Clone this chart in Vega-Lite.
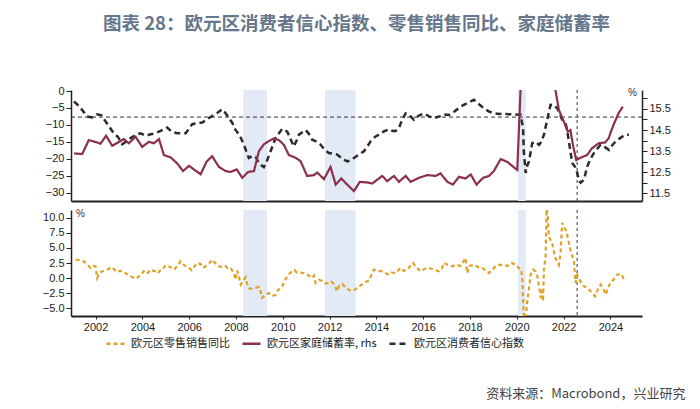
{
"$schema":"https://vega.github.io/schema/vega-lite/v6.json",
"background":"white",
"padding":{"left":42,"top":14,"right":5,"bottom":8},
"title":{"text":"资料来源：Macrobond，兴业研究","orient":"bottom","anchor":"end","fontSize":13,"font":"Noto Sans CJK SC","fontWeight":"normal","color":"#444","offset":39,"dx":15},
"datasets":{
"bands":[{"s":2008.31,"e":2009.33},{"s":2011.8,"e":2013.11},{"s":2020.05,"e":2020.38}],
"vline":[{"t":2022.58}],
"hline":[{"v":-7.7}],
"conf":[{"t":2001.08,"v":-3.1},{"t":2001.3,"v":-4.5},{"t":2001.64,"v":-7.5},{"t":2001.85,"v":-7.8},{"t":2002.07,"v":-6.9},{"t":2002.25,"v":-7.2},{"t":2002.43,"v":-9.0},{"t":2002.78,"v":-12.5},{"t":2002.95,"v":-13.5},{"t":2003.14,"v":-15.7},{"t":2003.3,"v":-15.0},{"t":2003.5,"v":-13.9},{"t":2003.7,"v":-13.0},{"t":2003.92,"v":-12.5},{"t":2004.15,"v":-13.2},{"t":2004.35,"v":-12.8},{"t":2004.55,"v":-12.5},{"t":2004.78,"v":-11.8},{"t":2005.06,"v":-10.8},{"t":2005.25,"v":-12.0},{"t":2005.49,"v":-12.5},{"t":2005.85,"v":-12.5},{"t":2006.13,"v":-9.8},{"t":2006.35,"v":-9.5},{"t":2006.56,"v":-9.3},{"t":2006.8,"v":-8.2},{"t":2006.98,"v":-7.4},{"t":2007.2,"v":-6.5},{"t":2007.41,"v":-5.4},{"t":2007.55,"v":-6.5},{"t":2007.7,"v":-8.0},{"t":2007.85,"v":-9.5},{"t":2007.98,"v":-11.5},{"t":2008.15,"v":-13.0},{"t":2008.34,"v":-15.9},{"t":2008.45,"v":-18.0},{"t":2008.55,"v":-19.8},{"t":2008.7,"v":-19.2},{"t":2008.84,"v":-19.5},{"t":2009.0,"v":-21.5},{"t":2009.19,"v":-22.5},{"t":2009.3,"v":-21.0},{"t":2009.48,"v":-17.8},{"t":2009.69,"v":-13.9},{"t":2009.97,"v":-11.2},{"t":2010.19,"v":-12.0},{"t":2010.35,"v":-14.5},{"t":2010.47,"v":-16.4},{"t":2010.6,"v":-14.5},{"t":2010.69,"v":-12.9},{"t":2010.97,"v":-11.5},{"t":2011.1,"v":-12.5},{"t":2011.26,"v":-14.4},{"t":2011.45,"v":-15.0},{"t":2011.62,"v":-15.9},{"t":2011.8,"v":-17.5},{"t":2011.97,"v":-18.3},{"t":2012.15,"v":-18.5},{"t":2012.33,"v":-18.8},{"t":2012.55,"v":-20.0},{"t":2012.75,"v":-20.8},{"t":2012.9,"v":-20.5},{"t":2013.04,"v":-19.8},{"t":2013.25,"v":-18.8},{"t":2013.47,"v":-17.8},{"t":2013.6,"v":-16.5},{"t":2013.75,"v":-14.9},{"t":2013.95,"v":-13.5},{"t":2014.11,"v":-12.9},{"t":2014.3,"v":-12.0},{"t":2014.53,"v":-11.3},{"t":2014.7,"v":-11.8},{"t":2014.82,"v":-11.8},{"t":2014.96,"v":-11.0},{"t":2015.1,"v":-8.5},{"t":2015.25,"v":-6.6},{"t":2015.42,"v":-7.2},{"t":2015.6,"v":-8.5},{"t":2015.8,"v":-7.3},{"t":2016.03,"v":-6.6},{"t":2016.25,"v":-7.5},{"t":2016.46,"v":-8.0},{"t":2016.7,"v":-7.5},{"t":2016.88,"v":-6.9},{"t":2017.1,"v":-7.1},{"t":2017.35,"v":-6.0},{"t":2017.6,"v":-4.6},{"t":2017.9,"v":-3.5},{"t":2018.17,"v":-2.6},{"t":2018.4,"v":-4.0},{"t":2018.59,"v":-5.1},{"t":2018.8,"v":-6.0},{"t":2019.02,"v":-6.6},{"t":2019.25,"v":-6.8},{"t":2019.45,"v":-6.6},{"t":2019.65,"v":-6.9},{"t":2019.88,"v":-6.9},{"t":2020.16,"v":-7.0},{"t":2020.27,"v":-11.0},{"t":2020.3,"v":-17.8},{"t":2020.38,"v":-24.2},{"t":2020.45,"v":-22.0},{"t":2020.52,"v":-20.8},{"t":2020.66,"v":-15.4},{"t":2020.8,"v":-15.0},{"t":2020.95,"v":-15.9},{"t":2021.05,"v":-15.0},{"t":2021.16,"v":-12.9},{"t":2021.3,"v":-8.5},{"t":2021.44,"v":-4.1},{"t":2021.55,"v":-4.0},{"t":2021.73,"v":-5.1},{"t":2021.94,"v":-8.5},{"t":2022.08,"v":-9.5},{"t":2022.15,"v":-11.5},{"t":2022.27,"v":-16.9},{"t":2022.37,"v":-21.3},{"t":2022.5,"v":-22.5},{"t":2022.58,"v":-24.2},{"t":2022.66,"v":-26.5},{"t":2022.73,"v":-27.1},{"t":2022.87,"v":-26.2},{"t":2023.01,"v":-22.3},{"t":2023.15,"v":-20.0},{"t":2023.3,"v":-18.3},{"t":2023.45,"v":-17.0},{"t":2023.58,"v":-15.9},{"t":2023.75,"v":-16.5},{"t":2023.94,"v":-17.4},{"t":2024.08,"v":-16.0},{"t":2024.22,"v":-14.9},{"t":2024.4,"v":-14.0},{"t":2024.55,"v":-13.3},{"t":2024.65,"v":-12.9},{"t":2024.79,"v":-12.9}],
"sav":[{"t":2001.08,"v":13.39},{"t":2001.43,"v":13.36},{"t":2001.71,"v":14.02},{"t":2002.07,"v":13.91},{"t":2002.21,"v":13.85},{"t":2002.45,"v":14.23},{"t":2002.71,"v":13.75},{"t":2003.0,"v":13.94},{"t":2003.21,"v":14.07},{"t":2003.42,"v":13.87},{"t":2003.71,"v":14.18},{"t":2003.99,"v":13.7},{"t":2004.28,"v":13.94},{"t":2004.49,"v":13.87},{"t":2004.71,"v":14.07},{"t":2004.92,"v":13.31},{"t":2005.21,"v":13.2},{"t":2005.49,"v":12.91},{"t":2005.74,"v":12.55},{"t":2005.99,"v":12.8},{"t":2006.24,"v":12.6},{"t":2006.49,"v":12.4},{"t":2006.74,"v":12.99},{"t":2006.98,"v":13.26},{"t":2007.27,"v":12.75},{"t":2007.56,"v":12.55},{"t":2007.77,"v":12.51},{"t":2008.03,"v":12.63},{"t":2008.27,"v":12.23},{"t":2008.52,"v":12.51},{"t":2008.77,"v":12.55},{"t":2008.98,"v":13.5},{"t":2009.19,"v":13.82},{"t":2009.41,"v":13.98},{"t":2009.62,"v":14.1},{"t":2009.84,"v":14.02},{"t":2010.05,"v":13.79},{"t":2010.26,"v":13.31},{"t":2010.55,"v":13.18},{"t":2010.76,"v":13.02},{"t":2011.04,"v":12.32},{"t":2011.33,"v":12.36},{"t":2011.47,"v":12.48},{"t":2011.76,"v":12.17},{"t":2012.04,"v":12.75},{"t":2012.26,"v":11.91},{"t":2012.5,"v":12.2},{"t":2012.78,"v":11.88},{"t":2013.04,"v":11.6},{"t":2013.29,"v":12.04},{"t":2013.61,"v":12.01},{"t":2013.82,"v":11.96},{"t":2014.25,"v":12.32},{"t":2014.46,"v":12.07},{"t":2014.75,"v":12.32},{"t":2014.96,"v":12.04},{"t":2015.25,"v":12.32},{"t":2015.46,"v":12.04},{"t":2015.82,"v":12.23},{"t":2016.17,"v":12.36},{"t":2016.53,"v":12.32},{"t":2016.74,"v":12.44},{"t":2017.03,"v":12.04},{"t":2017.27,"v":11.91},{"t":2017.53,"v":12.28},{"t":2017.81,"v":12.2},{"t":2018.03,"v":12.39},{"t":2018.28,"v":11.91},{"t":2018.56,"v":12.23},{"t":2018.81,"v":12.32},{"t":2019.02,"v":12.55},{"t":2019.31,"v":13.12},{"t":2019.59,"v":12.99},{"t":2020.02,"v":12.6},{"t":2020.2,"v":17.5},{"t":2020.45,"v":17.3},{"t":2020.7,"v":17.0},{"t":2020.95,"v":17.5},{"t":2021.2,"v":17.8},{"t":2021.45,"v":17.0},{"t":2021.65,"v":16.4},{"t":2021.8,"v":15.45},{"t":2022.01,"v":14.9},{"t":2022.18,"v":14.42},{"t":2022.29,"v":14.5},{"t":2022.4,"v":13.79},{"t":2022.54,"v":13.07},{"t":2022.72,"v":13.18},{"t":2023.0,"v":13.31},{"t":2023.21,"v":13.63},{"t":2023.5,"v":13.87},{"t":2023.78,"v":13.91},{"t":2023.92,"v":14.1},{"t":2024.13,"v":14.74},{"t":2024.35,"v":15.3},{"t":2024.53,"v":15.61}],
"retail":[{"t":2001.15,"v":3.06},{"t":2001.3,"v":3.0},{"t":2001.5,"v":2.78},{"t":2001.65,"v":2.2},{"t":2001.79,"v":1.67},{"t":2001.9,"v":2.0},{"t":2002.0,"v":1.94},{"t":2002.07,"v":0.0},{"t":2002.17,"v":0.9},{"t":2002.28,"v":1.11},{"t":2002.4,"v":1.2},{"t":2002.5,"v":1.39},{"t":2002.6,"v":1.6},{"t":2002.71,"v":1.78},{"t":2002.82,"v":1.3},{"t":2002.92,"v":1.0},{"t":2003.07,"v":1.22},{"t":2003.17,"v":0.9},{"t":2003.28,"v":0.83},{"t":2003.45,"v":0.4},{"t":2003.64,"v":0.0},{"t":2003.75,"v":-0.1},{"t":2003.85,"v":0.28},{"t":2003.95,"v":0.6},{"t":2004.06,"v":1.11},{"t":2004.2,"v":0.7},{"t":2004.35,"v":1.39},{"t":2004.45,"v":1.2},{"t":2004.56,"v":1.11},{"t":2004.67,"v":0.8},{"t":2004.78,"v":1.39},{"t":2004.88,"v":1.5},{"t":2004.99,"v":2.11},{"t":2005.1,"v":2.0},{"t":2005.21,"v":1.78},{"t":2005.35,"v":1.39},{"t":2005.5,"v":2.0},{"t":2005.63,"v":2.78},{"t":2005.8,"v":2.1},{"t":2005.99,"v":1.67},{"t":2006.1,"v":1.3},{"t":2006.2,"v":1.8},{"t":2006.34,"v":2.5},{"t":2006.5,"v":2.3},{"t":2006.6,"v":1.7},{"t":2006.7,"v":1.94},{"t":2006.85,"v":2.4},{"t":2006.98,"v":3.06},{"t":2007.08,"v":2.6},{"t":2007.2,"v":2.22},{"t":2007.3,"v":1.9},{"t":2007.41,"v":1.78},{"t":2007.55,"v":2.0},{"t":2007.65,"v":1.6},{"t":2007.77,"v":1.67},{"t":2007.9,"v":0.9},{"t":2007.98,"v":-0.28},{"t":2008.05,"v":1.22},{"t":2008.12,"v":0.3},{"t":2008.2,"v":-1.11},{"t":2008.3,"v":-0.5},{"t":2008.41,"v":0.11},{"t":2008.48,"v":-1.0},{"t":2008.55,"v":-1.67},{"t":2008.65,"v":-1.8},{"t":2008.77,"v":-1.67},{"t":2008.88,"v":-1.6},{"t":2008.98,"v":-1.5},{"t":2009.05,"v":-2.2},{"t":2009.12,"v":-3.3},{"t":2009.25,"v":-2.8},{"t":2009.41,"v":-2.5},{"t":2009.55,"v":-3.0},{"t":2009.69,"v":-2.8},{"t":2009.8,"v":-2.0},{"t":2009.97,"v":-1.39},{"t":2010.08,"v":-0.5},{"t":2010.19,"v":0.28},{"t":2010.3,"v":0.8},{"t":2010.4,"v":1.11},{"t":2010.5,"v":1.3},{"t":2010.6,"v":0.9},{"t":2010.76,"v":0.9},{"t":2010.9,"v":0.8},{"t":2011.04,"v":0.56},{"t":2011.15,"v":0.3},{"t":2011.26,"v":0.0},{"t":2011.33,"v":0.4},{"t":2011.4,"v":-0.83},{"t":2011.55,"v":-0.3},{"t":2011.68,"v":-0.5},{"t":2011.8,"v":-0.9},{"t":2011.97,"v":-0.83},{"t":2012.08,"v":-0.6},{"t":2012.18,"v":-1.0},{"t":2012.25,"v":-1.5},{"t":2012.32,"v":-2.2},{"t":2012.42,"v":-1.2},{"t":2012.54,"v":-1.0},{"t":2012.7,"v":-1.6},{"t":2012.8,"v":-1.9},{"t":2012.9,"v":-2.1},{"t":2013.05,"v":-2.0},{"t":2013.18,"v":-1.67},{"t":2013.3,"v":-1.3},{"t":2013.47,"v":-0.83},{"t":2013.58,"v":-0.6},{"t":2013.68,"v":-0.44},{"t":2013.89,"v":1.39},{"t":2014.05,"v":1.2},{"t":2014.25,"v":1.11},{"t":2014.35,"v":0.9},{"t":2014.53,"v":0.56},{"t":2014.65,"v":0.9},{"t":2014.82,"v":0.83},{"t":2015.03,"v":1.67},{"t":2015.15,"v":1.2},{"t":2015.32,"v":1.39},{"t":2015.45,"v":2.0},{"t":2015.57,"v":2.5},{"t":2015.7,"v":1.8},{"t":2015.89,"v":1.11},{"t":2016.05,"v":1.5},{"t":2016.24,"v":1.67},{"t":2016.45,"v":1.4},{"t":2016.67,"v":1.11},{"t":2016.8,"v":1.6},{"t":2016.88,"v":2.5},{"t":2017.05,"v":2.2},{"t":2017.24,"v":1.94},{"t":2017.4,"v":2.2},{"t":2017.6,"v":2.0},{"t":2017.81,"v":3.33},{"t":2017.88,"v":0.83},{"t":2017.95,"v":2.0},{"t":2018.17,"v":2.2},{"t":2018.35,"v":1.8},{"t":2018.52,"v":1.67},{"t":2018.65,"v":1.3},{"t":2018.81,"v":0.83},{"t":2018.95,"v":1.4},{"t":2019.09,"v":1.94},{"t":2019.25,"v":2.2},{"t":2019.45,"v":2.2},{"t":2019.6,"v":2.0},{"t":2019.8,"v":2.5},{"t":2020.02,"v":2.0},{"t":2020.12,"v":1.5},{"t":2020.19,"v":1.39},{"t":2020.24,"v":-0.28},{"t":2020.27,"v":-3.6},{"t":2020.32,"v":-8.0},{"t":2020.38,"v":-7.0},{"t":2020.44,"v":-4.2},{"t":2020.52,"v":-1.67},{"t":2020.59,"v":0.56},{"t":2020.7,"v":1.4},{"t":2020.8,"v":1.11},{"t":2020.88,"v":0.3},{"t":2020.95,"v":-1.39},{"t":2021.02,"v":-3.33},{"t":2021.09,"v":-1.67},{"t":2021.12,"v":-3.9},{"t":2021.16,"v":1.39},{"t":2021.23,"v":3.6},{"t":2021.27,"v":11.5},{"t":2021.32,"v":10.5},{"t":2021.37,"v":6.9},{"t":2021.51,"v":5.8},{"t":2021.58,"v":4.5},{"t":2021.65,"v":3.33},{"t":2021.8,"v":2.2},{"t":2021.87,"v":4.2},{"t":2021.94,"v":9.2},{"t":2022.0,"v":8.5},{"t":2022.08,"v":8.1},{"t":2022.15,"v":7.2},{"t":2022.22,"v":6.0},{"t":2022.29,"v":4.7},{"t":2022.36,"v":3.8},{"t":2022.44,"v":2.8},{"t":2022.51,"v":-0.83},{"t":2022.58,"v":0.5},{"t":2022.65,"v":0.0},{"t":2022.75,"v":-0.8},{"t":2022.87,"v":-1.39},{"t":2023.0,"v":-1.6},{"t":2023.15,"v":-2.2},{"t":2023.25,"v":-2.6},{"t":2023.35,"v":-3.05},{"t":2023.45,"v":-2.0},{"t":2023.58,"v":-1.11},{"t":2023.7,"v":-1.8},{"t":2023.8,"v":-2.78},{"t":2023.9,"v":-1.6},{"t":2024.0,"v":-0.83},{"t":2024.15,"v":-0.2},{"t":2024.29,"v":0.56},{"t":2024.45,"v":0.7},{"t":2024.55,"v":0.0},{"t":2024.65,"v":0.28}]
},
"vconcat":[
{
"width":571,"height":111,
"title":{"text":"图表 28：欧元区消费者信心指数、零售销售同比、家庭储蓄率","fontSize":18.5,"fontWeight":"bold","color":"#66778b","font":"Noto Sans CJK SC","anchor":"middle","offset":52},
"layer":[
{"data":{"name":"bands"},"mark":{"type":"rect","color":"#e2eaf5"},
 "encoding":{"x":{"field":"s","type":"quantitative","scale":{"domain":[2000.95,2025.35],"nice":false,"zero":false},"axis":{"labels":false,"ticks":false,"title":null,"domainWidth":2}},"x2":{"field":"e"}}},
{"data":{"name":"hline"},"mark":{"type":"rule","strokeDash":[4,3],"color":"#333","strokeWidth":1},
 "encoding":{"y":{"field":"v","type":"quantitative","scale":{"domain":[-32.5,0.3],"nice":false,"zero":false},"axis":null}}},
{"data":{"name":"vline"},"mark":{"type":"rule","strokeDash":[3,3],"color":"#56657f","strokeWidth":1.3},
 "encoding":{"x":{"field":"t","type":"quantitative","axis":{"labels":false,"ticks":false,"title":null,"domainWidth":2}}}},
{"data":{"name":"conf"},"mark":{"type":"line","clip":true,"strokeWidth":2.5},
 "encoding":{"x":{"field":"t","type":"quantitative","axis":{"labels":false,"ticks":false,"title":null,"domainWidth":2}},
  "y":{"field":"v","type":"quantitative","scale":{"domain":[-32.5,0.3],"nice":false,"zero":false},"axis":{"orient":"left","values":[0,-5,-10,-15,-20,-25,-30],"title":null}},
  "color":{"datum":"欧元区消费者信心指数","type":"nominal","scale":{"domain":["欧元区零售销售同比","欧元区家庭储蓄率, rhs","欧元区消费者信心指数"],"range":["#e0a226","#8c2f4f","#2b2b2b"]},"legend":{"title":null}},
  "strokeDash":{"datum":"欧元区消费者信心指数","type":"nominal","scale":{"domain":["欧元区零售销售同比","欧元区家庭储蓄率, rhs","欧元区消费者信心指数"],"range":[[4,3],[1,0],[6,4]]},"legend":{"title":null}}}},
{"data":{"name":"sav"},"mark":{"type":"line","clip":true,"strokeWidth":2.2},
 "encoding":{"x":{"field":"t","type":"quantitative","axis":{"labels":false,"ticks":false,"title":null,"domainWidth":2}},
  "y":{"field":"v","type":"quantitative","scale":{"domain":[11.13,16.4],"nice":false,"zero":false},"axis":{"orient":"right","values":[11.5,12,12.5,13,13.5,14,14.5,15,15.5,16],"labelExpr":"datum.value % 1 != 0 ? format(datum.value, '.1f') : ''","title":"%","titleAngle":0,"titleX":-10,"titleY":7,"titleFontSize":10,"titleFontWeight":"normal","titleColor":"#333"}},
  "color":{"datum":"欧元区家庭储蓄率, rhs","type":"nominal","scale":{"domain":["欧元区零售销售同比","欧元区家庭储蓄率, rhs","欧元区消费者信心指数"],"range":["#e0a226","#8c2f4f","#2b2b2b"]},"legend":{"title":null}},
  "strokeDash":{"datum":"欧元区家庭储蓄率, rhs","type":"nominal","scale":{"domain":["欧元区零售销售同比","欧元区家庭储蓄率, rhs","欧元区消费者信心指数"],"range":[[4,3],[1,0],[6,4]]},"legend":{"title":null}}}}
],
"resolve":{"scale":{"y":"independent"}}
},
{
"width":571,"height":106,
"layer":[
{"data":{"name":"bands"},"mark":{"type":"rect","color":"#e2eaf5"},
 "encoding":{"x":{"field":"s","type":"quantitative","scale":{"domain":[2000.95,2025.35],"nice":false,"zero":false},"axis":{"values":[2002,2004,2006,2008,2010,2012,2014,2016,2018,2020,2022,2024],"format":"d","title":null,"tickSize":3,"labelPadding":2,"domainWidth":2}},"x2":{"field":"e"}}},
{"data":{"name":"vline"},"mark":{"type":"rule","strokeDash":[3,3],"color":"#56657f","strokeWidth":1.3},
 "encoding":{"x":{"field":"t","type":"quantitative","axis":{"values":[2002,2004,2006,2008,2010,2012,2014,2016,2018,2020,2022,2024],"format":"d","title":null,"tickSize":3,"labelPadding":2,"domainWidth":2}}}},
{"data":{"name":"retail"},"mark":{"type":"line","clip":true,"strokeWidth":2.2},
 "encoding":{"x":{"field":"t","type":"quantitative","axis":{"values":[2002,2004,2006,2008,2010,2012,2014,2016,2018,2020,2022,2024],"format":"d","title":null,"tickSize":3,"labelPadding":2,"domainWidth":2}},
  "y":{"field":"v","type":"quantitative","scale":{"domain":[-6.33,11.33],"nice":false,"zero":false},"axis":{"values":[-5,-2.5,0,2.5,5,7.5,10],"format":".1f","title":"%","titleAngle":0,"titleX":9,"titleY":8,"titleFontSize":10,"titleFontWeight":"normal","titleColor":"#333"}},
  "color":{"datum":"欧元区零售销售同比","type":"nominal","scale":{"domain":["欧元区零售销售同比","欧元区家庭储蓄率, rhs","欧元区消费者信心指数"],"range":["#e0a226","#8c2f4f","#2b2b2b"]},"legend":{"title":null}},
  "strokeDash":{"datum":"欧元区零售销售同比","type":"nominal","scale":{"domain":["欧元区零售销售同比","欧元区家庭储蓄率, rhs","欧元区消费者信心指数"],"range":[[4,3],[1,0],[6,4]]},"legend":{"title":null}}}}
]
}
],
"spacing":6,
"config":{
"view":{"stroke":null},
"axis":{"labelFont":"Liberation Sans","labelFontSize":11,"labelColor":"#222","domainColor":"#222","tickColor":"#222","grid":false,"titleFont":"Liberation Sans","domainWidth":1.5,"tickSize":5},
"legend":{"orient":"none","legendX":34,"legendY":243,"direction":"horizontal","labelFont":"Noto Sans CJK SC","labelFontSize":11,"labelColor":"#222","symbolType":"stroke","symbolSize":324,"symbolStrokeWidth":2.5,"columnPadding":7,"labelOffset":5}
}
}
